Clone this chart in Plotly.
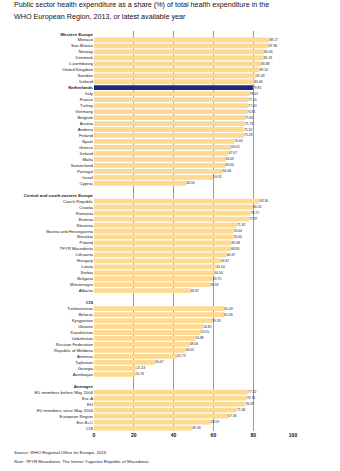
import plotly.graph_objects as go

# ---- data ----
western_europe = ["Monaco", "San Marino", "Norway", "Denmark", "Luxembourg", "United Kingdom",
                  "Sweden", "Iceland", "Netherlands", "Italy", "France", "Turkey", "Germany",
                  "Belgium", "Austria", "Andorra", "Finland", "Spain", "Greece", "Ireland",
                  "Malta", "Switzerland", "Portugal", "Israel", "Cyprus"]
western_values = [88.17, 87.80, 85.46, 85.26, 83.88, 83.14, 81.48, 80.46, 79.85, 78.03, 77.50,
                  77.40, 76.81, 75.80, 75.73, 75.32, 75.28, 70.40, 69.01, 67.67, 66.09, 66.00,
                  64.66, 59.92, 46.30]

central_se = ["Czech Republic", "Croatia", "Romania", "Estonia", "Slovenia",
              "Bosnia and Herzegovina", "Slovakia", "Poland", "TFYR Macedonia", "Lithuania",
              "Hungary", "Latvia", "Serbia", "Bulgaria", "Montenegro", "Albania"]
central_values = [83.30, 80.01, 78.71, 77.87, 71.82, 70.04, 70.04, 69.08, 68.80, 66.67,
                  63.67, 61.50, 60.50, 59.75, 58.33, 48.37]

cis = ["Turkmenistan", "Belarus", "Kyrgyzstan", "Ukraine", "Kazakhstan", "Uzbekistan",
       "Russian Federation", "Republic of Moldova", "Armenia", "Tajikistan", "Georgia",
       "Azerbaijan"]
cis_values = [65.49, 65.38, 59.33, 54.85, 53.55, 50.88, 48.06, 46.05, 41.73, 30.67, 21.43, 20.78]

averages = ["EU members before May 2004", "Eur-A", "EU", "EU members since May 2004",
            "European Region", "Eur-B+C", "CIS"]
average_values = [77.32, 76.76, 76.09, 71.84, 67.36, 58.59, 49.33]

groups = [("Western Europe", western_europe, western_values),
          ("Central and south-eastern Europe", central_se, central_values),
          ("CIS", cis, cis_values),
          ("Averages", averages, average_values)]

highlight = "Netherlands"
x_ticks = [0, 20, 40, 60, 80, 100]

title_lines = ["Public sector health expenditure as a share (%) of total health expenditure in the",
               "WHO European Region, 2013, or latest available year"]

# ---- build rows ----
ys, xs, names, colors, texts = [], [], [], [], []
tickvals, ticktext = [], []
row = 0
for gi, (gname, cats, vals) in enumerate(groups):
    if gi > 0:
        row += 1  # blank row
    tickvals.append(row)
    ticktext.append("<b>" + gname + "</b>")
    row += 1
    for c, v in zip(cats, vals):
        ys.append(row)
        xs.append(v)
        names.append(c)
        colors.append("#1c2b78" if c == highlight else "#fed992")
        texts.append(f"{v:.2f}")
        tickvals.append(row)
        ticktext.append("<b>" + c + "</b>" if c == highlight else c)
        row += 1
nrows = row

font_family = "Liberation Sans, Arial, sans-serif"

# plot area in pixels: x 94..293, y 31..431
PL, PR, PT, PB = 94, 293, 31, 431


def px_x(p):
    return (p - PL) / (PR - PL)


def px_y(p):
    return (PB - p) / (PB - PT)


fig = go.Figure()
fig.add_trace(go.Bar(
    x=xs, y=ys, orientation="h",
    marker=dict(color=colors, line=dict(width=0)),
    width=0.8,
    text=texts, textposition="outside", cliponaxis=False,
    textfont=dict(size=3.4, color="#222222", family=font_family),
    hoverinfo="skip",
))

fig.update_layout(
    width=340, height=471,
    margin=dict(l=PL, r=340 - PR, t=PT, b=471 - PB),
    paper_bgcolor="white", plot_bgcolor="white",
    showlegend=False,
    bargap=0.2,
    xaxis=dict(
        range=[0, 100], tickvals=x_ticks,
        ticktext=["<b>%d</b>" % t for t in x_ticks],
        showgrid=True, gridcolor="#9a9a9a", gridwidth=1.3,
        zeroline=False, showline=False,
        tickfont=dict(size=5, color="#111111", family=font_family),
        ticks="", fixedrange=True,
    ),
    yaxis=dict(
        range=[nrows - 0.5, -0.5],
        tickvals=tickvals, ticktext=ticktext,
        showgrid=False, zeroline=False, showline=False,
        tickfont=dict(size=4.3, color="#1a1a1a", family=font_family),
        ticks="", ticklen=0, fixedrange=True,
    ),
    uniformtext=dict(minsize=1, mode="show"),
)

for line, ypix in zip(title_lines, [4.6, 16.4]):
    fig.add_annotation(
        text=line,
        xref="paper", yref="paper", x=px_x(12), y=px_y(ypix),
        xanchor="left", yanchor="middle", align="left", showarrow=False,
        font=dict(size=7.2, color="#111111", family=font_family),
    )
fig.add_annotation(
    text="<i>Source</i>: WHO Regional Office for Europe, 2015.",
    xref="paper", yref="paper", x=px_x(12), y=px_y(452.7),
    xanchor="left", yanchor="middle", showarrow=False,
    font=dict(size=4.4, color="#222222", family=font_family),
)
fig.add_annotation(
    text="<i>Note</i>: TFYR Macedonia: The former Yugoslav Republic of Macedonia.",
    xref="paper", yref="paper", x=px_x(12), y=px_y(461),
    xanchor="left", yanchor="middle", showarrow=False,
    font=dict(size=4.4, color="#222222", family=font_family),
)

fig.write_html("out.html")
